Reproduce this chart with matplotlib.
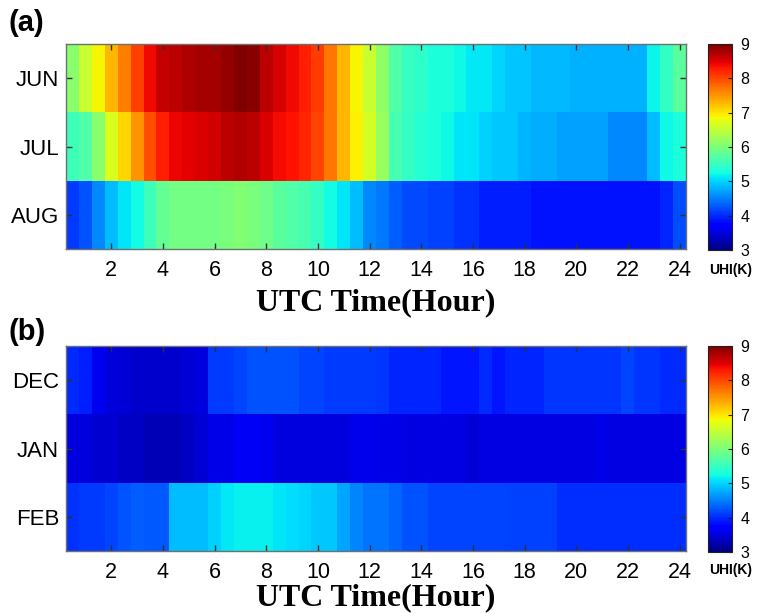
import numpy as np
import matplotlib
matplotlib.use("Agg")
import matplotlib.pyplot as plt

hours = np.arange(0.5, 24.01, 0.5)  # 48 half-hour bins
summer_months = ["JUN", "JUL", "AUG"]
winter_months = ["DEC", "JAN", "FEB"]

jun = [6.1, 6.55, 6.9, 7.3, 7.65, 8.05, 8.4, 8.63, 8.68, 8.75, 8.8, 8.8,
       8.9, 9.0, 8.93, 8.68, 8.55, 8.4, 8.27, 8.07, 7.7, 7.3, 6.9, 6.55,
       6.15, 5.68, 5.5, 5.42, 5.32, 5.3, 5.22, 5.12, 5.12, 5.0, 4.9, 4.9,
       4.84, 4.84, 4.84, 4.8, 4.8, 4.8, 4.8, 4.8, 4.8, 5.18, 5.47, 5.75]
jul = [5.54, 5.68, 6.1, 6.7, 7.09, 7.5, 7.95, 8.27, 8.42, 8.47, 8.52, 8.57,
       8.68, 8.73, 8.68, 8.52, 8.37, 8.34, 8.21, 8.02, 7.7, 7.3, 6.92, 6.63,
       6.19, 5.61, 5.47, 5.39, 5.3, 5.22, 5.1, 5.1, 4.99, 4.93, 4.93, 4.81,
       4.78, 4.78, 4.69, 4.69, 4.69, 4.69, 4.57, 4.57, 4.57, 4.87, 5.22, 5.3]
aug = [4.1, 4.22, 4.57, 4.87, 5.1, 5.24, 5.54, 5.83, 5.94, 5.94, 5.94, 5.94,
       5.98, 6.05, 5.98, 5.9, 5.75, 5.68, 5.61, 5.47, 5.24, 5.1, 4.87, 4.57,
       4.47, 4.29, 4.19, 4.19, 4.13, 4.13, 4.04, 4.04, 3.93, 3.93, 3.93, 3.93,
       3.85, 3.85, 3.85, 3.85, 3.85, 3.85, 3.85, 3.85, 3.85, 3.85, 3.98, 4.2]
dec = [4.0, 3.92, 3.6, 3.47, 3.45, 3.42, 3.4, 3.4, 3.42, 3.45, 3.5, 4.1,
       4.1, 4.16, 4.22, 4.22, 4.22, 4.22, 4.16, 4.16, 4.1, 4.1, 4.1, 4.1,
       4.07, 3.98, 3.98, 3.98, 3.98, 3.87, 3.87, 3.87, 4.0, 3.87, 3.98, 3.98,
       3.98, 4.07, 4.07, 4.07, 4.07, 4.07, 4.07, 4.16, 4.07, 4.07, 4.0, 4.0]
jan = [3.5, 3.5, 3.43, 3.43, 3.37, 3.37, 3.3, 3.3, 3.3, 3.37, 3.45, 3.56,
       3.56, 3.62, 3.62, 3.6, 3.5, 3.5, 3.5, 3.5, 3.5, 3.5, 3.58, 3.58,
       3.56, 3.56, 3.52, 3.52, 3.52, 3.52, 3.52, 3.45, 3.52, 3.52, 3.52, 3.52,
       3.52, 3.52, 3.52, 3.52, 3.52, 3.56, 3.52, 3.52, 3.52, 3.52, 3.52, 3.52]
feb = [4.04, 4.1, 4.1, 4.16, 4.25, 4.31, 4.28, 4.28, 4.87, 4.87, 4.87, 4.99,
       5.12, 5.16, 5.16, 5.16, 5.1, 5.05, 5.01, 4.93, 4.93, 4.72, 4.54, 4.43,
       4.43, 4.34, 4.22, 4.22, 4.16, 4.16, 4.16, 4.16, 4.16, 4.16, 4.13, 4.13,
       4.13, 4.13, 4.01, 4.01, 4.01, 4.01, 4.01, 4.01, 4.01, 4.01, 4.01, 4.01]

xticks = list(range(2, 25, 2))
cbar_ticks = [3, 4, 5, 6, 7, 8, 9]
vmin, vmax = 3, 9

W, H = 757, 613
fig = plt.figure(figsize=(W / 100, H / 100), dpi=100)

def box(l, t, r, b):
    return [l / W, 1 - b / H, (r - l) / W, (b - t) / H]

sans = "Liberation Sans"
serif = "Liberation Serif"

panels = [
    (box(66, 44, 686, 249), box(708, 44, 732, 250), [jun, jul, aug], summer_months, 310, "(a)", 31, 270),
    (box(66, 346, 686, 551), box(708, 346, 732, 552), [dec, jan, feb], winter_months, 605, "(b)", 340, 570),
]

step = hours[1] - hours[0]
xedges = np.concatenate([hours - step / 2, [hours[-1] + step / 2]])

for axpos, cpos, rows, labels, xl_y, tag, tag_y, uhi_y in panels:
    ax = fig.add_axes(axpos)
    data = np.array(rows)
    yedges = np.arange(len(labels) + 1) - 0.5
    mesh = ax.pcolormesh(xedges, yedges, data, cmap="jet", vmin=vmin, vmax=vmax,
                         shading="flat", edgecolors="none", antialiased=False)
    ax.set_xlim(xedges[0], xedges[-1])
    ax.set_ylim(yedges[-1], yedges[0])
    ax.set_xticks(xticks)
    ax.set_xticklabels([str(t) for t in xticks], fontsize=15.5, family=sans)
    ax.set_yticks(range(len(labels)))
    ax.set_yticklabels(labels, fontsize=16, family=sans)
    ax.tick_params(axis="x", direction="in", length=4, width=1, top=True, bottom=True,
                   pad=8, color="#303030")
    ax.tick_params(axis="y", direction="in", length=4, width=1, left=True, right=True,
                   pad=5, color="#303030")
    for s in ax.spines.values():
        s.set_color("#707070")
        s.set_linewidth(1)
    fig.text(376 / W, 1 - xl_y / H, "UTC Time(Hour)", ha="center", va="baseline",
             fontsize=23, fontweight="bold", family=serif)
    fig.text(8 / W, 1 - tag_y / H, tag, ha="left", va="baseline",
             fontsize=21, fontweight="bold", family=sans)

    cax = fig.add_axes(cpos)
    cb = fig.colorbar(mesh, cax=cax, ticks=cbar_ticks)
    cb.outline.set_edgecolor("#202020")
    cb.outline.set_linewidth(0.8)
    cax.tick_params(direction="in", length=3, width=0.8, right=True, left=False,
                    labelsize=11.5, pad=6, color="#202020")
    for lab in cax.get_yticklabels():
        lab.set_family(sans)
    fig.text(731 / W, 1 - uhi_y / H, "UHI(K)", ha="center", va="center",
             fontsize=10, fontweight="bold", family=sans)

fig.savefig("out.png", dpi=100)
